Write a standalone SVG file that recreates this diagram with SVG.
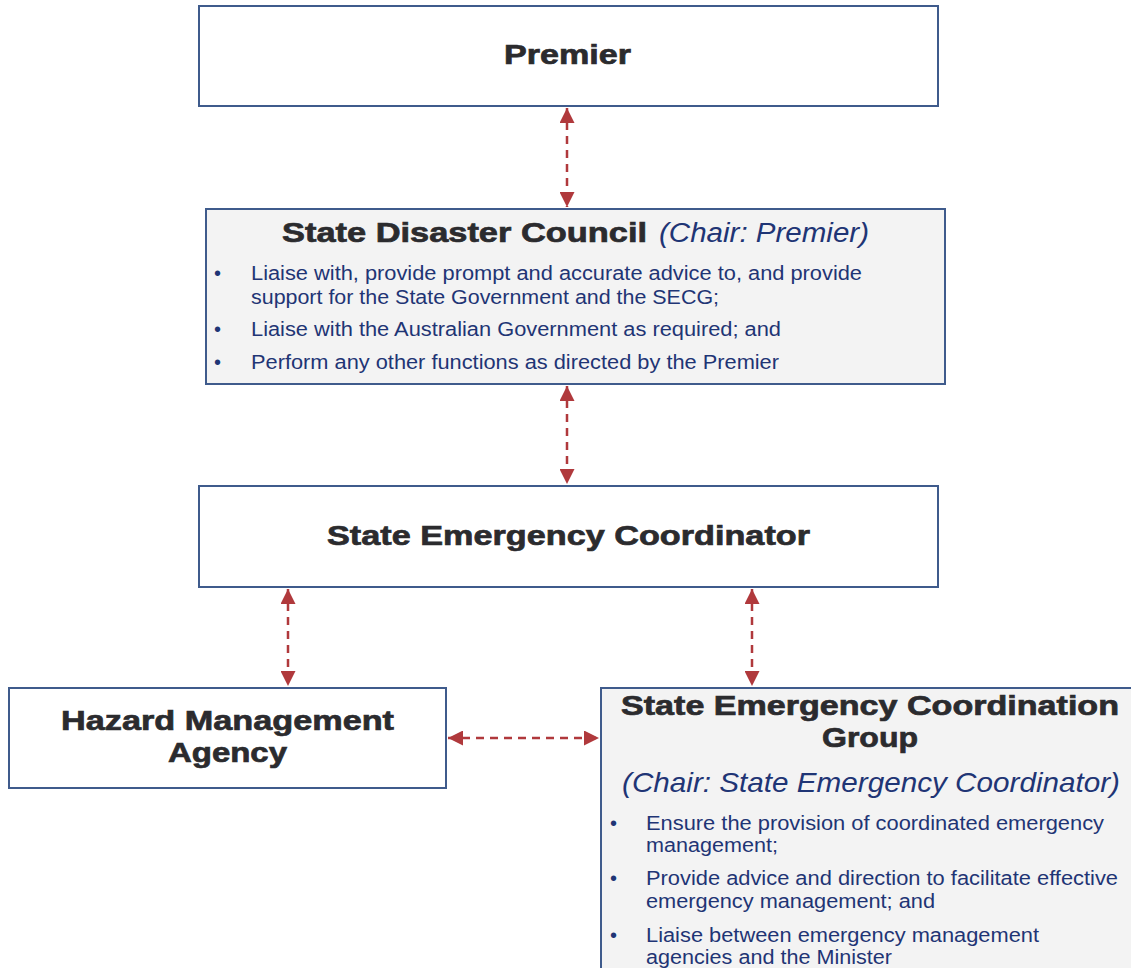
<svg xmlns="http://www.w3.org/2000/svg" width="1131" height="968" viewBox="0 0 1131 968">
<defs>
<style>
.box{fill:#ffffff;stroke:#3f5b8c;stroke-width:2}
.gbox{fill:#f3f3f3;stroke:#3f5b8c;stroke-width:2}
.t{font-family:"Liberation Sans",Arial,sans-serif;font-weight:bold;fill:#2b2b2e;stroke:#2b2b2e;stroke-width:0.7}
.i{font-family:"Liberation Sans",Arial,sans-serif;font-style:italic;fill:#1f3575}
.b{font-family:"Liberation Sans",Arial,sans-serif;font-size:20px;fill:#1f3575}
.c{fill:none;stroke:#b0393c;stroke-width:2.5;stroke-dasharray:8,6}
</style>
<marker id="ah" viewBox="0 0 10 10" refX="10" refY="5" markerWidth="6" markerHeight="6" orient="auto-start-reverse" markerUnits="strokeWidth">
<path d="M0,0 L10,5 L0,10 z" fill="#b0393c"/>
</marker>
</defs>
<rect width="1131" height="968" fill="#ffffff"/>
<g id="premier">
<rect class="box" x="199" y="6" width="739" height="100"/>
<text class="t" x="504" y="64" font-size="28" textLength="127" lengthAdjust="spacingAndGlyphs">Premier</text>
</g>
<g id="sdc">
<rect class="gbox" x="206" y="209" width="739" height="175"/>
<text class="t" x="282" y="242" font-size="28" textLength="365" lengthAdjust="spacingAndGlyphs">State Disaster Council</text>
<text class="i" x="659" y="242" font-size="27" textLength="210" lengthAdjust="spacingAndGlyphs">(Chair: Premier)</text>
<text class="b" x="214" y="280">•</text>
<text class="b" x="251" y="280" textLength="611" lengthAdjust="spacingAndGlyphs">Liaise with, provide prompt and accurate advice to, and provide</text>
<text class="b" x="251" y="304" textLength="468" lengthAdjust="spacingAndGlyphs">support for the State Government and the SECG;</text>
<text class="b" x="214" y="336">•</text>
<text class="b" x="251" y="336" textLength="530" lengthAdjust="spacingAndGlyphs">Liaise with the Australian Government as required; and</text>
<text class="b" x="214" y="369">•</text>
<text class="b" x="251" y="369" textLength="528" lengthAdjust="spacingAndGlyphs">Perform any other functions as directed by the Premier</text>
</g>
<g id="sec">
<rect class="box" x="199" y="486" width="739" height="101"/>
<text class="t" x="327" y="545" font-size="28" textLength="483" lengthAdjust="spacingAndGlyphs">State Emergency Coordinator</text>
</g>
<g id="hma">
<rect class="box" x="9" y="688" width="437" height="100"/>
<text class="t" x="61" y="730" font-size="28" textLength="333" lengthAdjust="spacingAndGlyphs">Hazard Management</text>
<text class="t" x="168" y="762" font-size="28" textLength="119" lengthAdjust="spacingAndGlyphs">Agency</text>
</g>
<g id="secg">
<rect class="gbox" x="601" y="688" width="540" height="290"/>
<text class="t" x="621" y="715" font-size="28" textLength="498" lengthAdjust="spacingAndGlyphs">State Emergency Coordination</text>
<text class="t" x="822" y="747" font-size="28" textLength="96" lengthAdjust="spacingAndGlyphs">Group</text>
<text class="i" x="622" y="792" font-size="28" textLength="498" lengthAdjust="spacingAndGlyphs">(Chair: State Emergency Coordinator)</text>
<text class="b" x="610" y="830">•</text>
<text class="b" x="646" y="830" textLength="458" lengthAdjust="spacingAndGlyphs">Ensure the provision of coordinated emergency</text>
<text class="b" x="646" y="852" textLength="132" lengthAdjust="spacingAndGlyphs">management;</text>
<text class="b" x="610" y="885">•</text>
<text class="b" x="646" y="885" textLength="472" lengthAdjust="spacingAndGlyphs">Provide advice and direction to facilitate effective</text>
<text class="b" x="646" y="908" textLength="289" lengthAdjust="spacingAndGlyphs">emergency management; and</text>
<text class="b" x="610" y="942">•</text>
<text class="b" x="646" y="942" textLength="393" lengthAdjust="spacingAndGlyphs">Liaise between emergency management</text>
<text class="b" x="646" y="964" textLength="246" lengthAdjust="spacingAndGlyphs">agencies and the Minister</text>
</g>
<g id="connectors">
<line class="c" x1="567" y1="108" x2="567" y2="207" marker-start="url(#ah)" marker-end="url(#ah)"/>
<line class="c" x1="567" y1="386" x2="567" y2="484" marker-start="url(#ah)" marker-end="url(#ah)"/>
<line class="c" x1="288" y1="589" x2="288" y2="686" marker-start="url(#ah)" marker-end="url(#ah)"/>
<line class="c" x1="752" y1="589" x2="752" y2="686" marker-start="url(#ah)" marker-end="url(#ah)"/>
<line class="c" x1="448" y1="738" x2="599" y2="738" marker-start="url(#ah)" marker-end="url(#ah)"/>
</g>
</svg>
